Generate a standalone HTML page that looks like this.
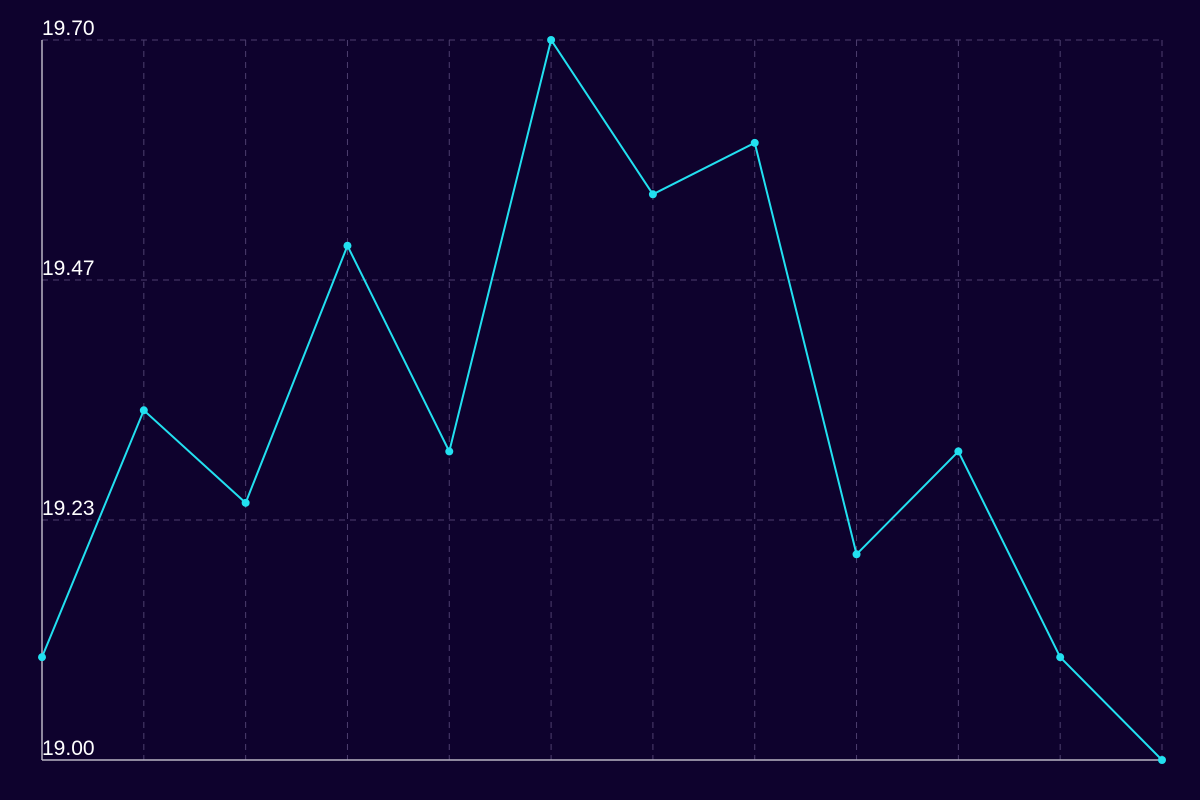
<!DOCTYPE html>
<html>
<head>
<meta charset="utf-8">
<style>
  html, body { margin: 0; padding: 0; background: #0e022d; }
  svg { display: block; }
  text { font-family: "Liberation Sans", sans-serif; }
</style>
</head>
<body>
<svg id="chart" width="1200" height="800" xmlns="http://www.w3.org/2000/svg">
  <rect x="0" y="0" width="1200" height="800" fill="#0e022d"/>
  <g id="grid"></g>
  <g id="axes"></g>
  <g id="series"></g>
  <g id="labels"></g>
</svg>
<script>
const values = [19.10, 19.34, 19.25, 19.50, 19.30, 19.70, 19.55, 19.60, 19.20, 19.30, 19.10, 19.00];
const yTicks = [19.00, 19.2333, 19.4667, 19.70];
const yMin = 19.00;
const yMax = 19.70;

(function () {
const NS = "http://www.w3.org/2000/svg";
const plotLeft = 42, plotRight = 1162, plotTop = 40, plotBottom = 760;
function xPos(i) { return plotLeft + i * (plotRight - plotLeft) / (values.length - 1); }
function yPos(v) { return plotBottom - (v - yMin) / (yMax - yMin) * (plotBottom - plotTop); }
function mk(tag, attrs, parent) {
  const e = document.createElementNS(NS, tag);
  for (const k in attrs) e.setAttribute(k, attrs[k]);
  parent.appendChild(e);
  return e;
}
const grid = document.getElementById('grid');
const axes = document.getElementById('axes');
const series = document.getElementById('series');
const labels = document.getElementById('labels');

yTicks.forEach((t, i) => {
  const y = yPos(t);
  if (i > 0) {
    const l = mk('line', {x1: plotLeft, x2: plotRight, y1: y, y2: y, stroke: '#4d3f6e', 'stroke-width': 1, 'stroke-dasharray': '6,5'}, grid);
    
    
  }
  const tx = mk('text', {x: plotLeft, y: y - 5, fill: '#ffffff', 'font-size': 21}, labels);
  tx.textContent = t.toFixed(2);
  
  
});
values.forEach((v, i) => {
  if (i === 0) return;
  const x = xPos(i);
  const l = mk('line', {x1: x, x2: x, y1: plotTop, y2: plotBottom, stroke: '#4d3f6e', 'stroke-width': 1, 'stroke-dasharray': '6,5'}, grid);
  
  
});
const ya = mk('line', {x1: plotLeft, x2: plotLeft, y1: plotTop, y2: plotBottom, stroke: '#b8b4c4', 'stroke-width': 1.5}, axes);


const xa = mk('line', {x1: plotLeft, x2: plotRight, y1: plotBottom, y2: plotBottom, stroke: '#b8b4c4', 'stroke-width': 1.5}, axes);



const pts = values.map((v, i) => xPos(i) + ',' + yPos(v)).join(' ');
const pl = mk('polyline', {points: pts, fill: 'none', stroke: '#22e0f0', 'stroke-width': 2}, series);


values.forEach((v, i) => {
  const c = mk('circle', {cx: xPos(i), cy: yPos(v), r: 4, fill: '#22e0f0'}, series);
  
  
});
})();
</script>
</body>
</html>
